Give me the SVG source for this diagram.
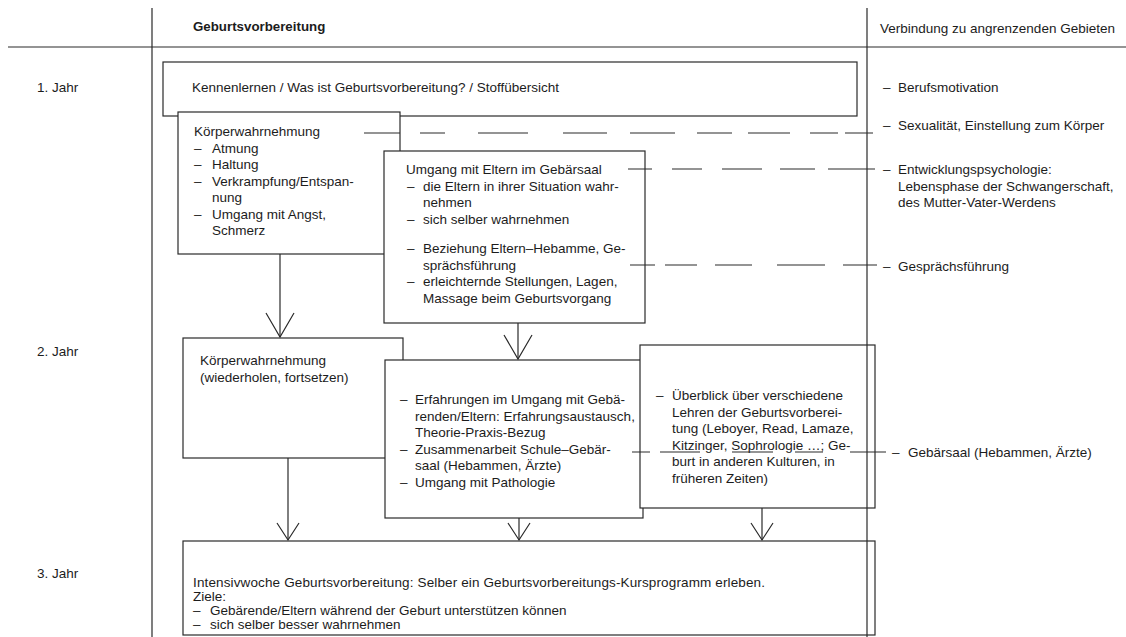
<svg xmlns="http://www.w3.org/2000/svg" width="1126" height="637" viewBox="0 0 1126 637">
<defs>
<style>
.t{font-family:"Liberation Sans",Arial,Helvetica,sans-serif;font-size:13.5px;fill:#1c1c1c}
.h{font-family:"Liberation Sans",Arial,Helvetica,sans-serif;font-size:13.3px;font-weight:bold;fill:#1c1c1c}
.box{fill:#fff;stroke:#2a2a2a;stroke-width:1.2}
.ln{fill:none;stroke:#2a2a2a;stroke-width:1.2}
.dash{fill:none;stroke:#2a2a2a;stroke-width:1.2}
</style>
<marker id="vL" markerUnits="userSpaceOnUse" viewBox="-1 -16 27 32" markerWidth="27" markerHeight="32" refX="24" refY="0" orient="auto">
<path d="M0,-14 L24,0 L0,14" fill="none" stroke="#2a2a2a" stroke-width="1.2"/>
</marker>
<marker id="vS" markerUnits="userSpaceOnUse" viewBox="-1 -13 20 26" markerWidth="20" markerHeight="26" refX="17" refY="0" orient="auto">
<path d="M0,-11 L17,0 L0,11" fill="none" stroke="#2a2a2a" stroke-width="1.2"/>
</marker>
</defs>
<rect width="1126" height="637" fill="#fff"/>

<g id="header">
<text class="h" x="193" y="31">Geburtsvorbereitung</text>
<text class="t" x="880" y="33">Verbindung zu angrenzenden Gebieten</text>
<text class="t" x="37" y="92">1.  Jahr</text>
<text class="t" x="37" y="356">2.  Jahr</text>
<text class="t" x="37" y="578">3.  Jahr</text>
</g>

<g id="n1">
<rect class="box" x="163" y="62" width="694" height="54"/>
<text class="t" x="192" y="92">Kennenlernen / Was ist Geburtsvorbereitung? / Stoffübersicht</text>
</g>

<g id="n2">
<rect class="box" x="178" y="112" width="222" height="142"/>
<text class="t" x="194" y="136">Körperwahrnehmung</text>
<text class="t" x="194" y="152.5">–</text><text class="t" x="212" y="152.5">Atmung</text>
<text class="t" x="194" y="169">–</text><text class="t" x="212" y="169">Haltung</text>
<text class="t" x="194" y="185.5">–</text><text class="t" x="212" y="185.5">Verkrampfung/Entspan-</text>
<text class="t" x="212" y="202">nung</text>
<text class="t" x="194" y="218.5">–</text><text class="t" x="212" y="218.5">Umgang mit Angst,</text>
<text class="t" x="212" y="235">Schmerz</text>
</g>

<g id="n3">
<rect class="box" x="384" y="151" width="261" height="172"/>
<text class="t" x="406" y="174">Umgang mit Eltern im Gebärsaal</text>
<text class="t" x="407" y="190.5">–</text><text class="t" x="423" y="190.5">die Eltern in ihrer Situation wahr-</text>
<text class="t" x="423" y="207">nehmen</text>
<text class="t" x="407" y="223.5">–</text><text class="t" x="423" y="223.5">sich selber wahrnehmen</text>
<text class="t" x="407" y="253">–</text><text class="t" x="423" y="253">Beziehung Eltern–Hebamme, Ge-</text>
<text class="t" x="423" y="269.5">sprächsführung</text>
<text class="t" x="407" y="286">–</text><text class="t" x="423" y="286">erleichternde Stellungen, Lagen,</text>
<text class="t" x="423" y="302.5">Massage beim Geburtsvorgang</text>
</g>

<g id="n4">
<rect class="box" x="183" y="338" width="220" height="120"/>
<text class="t" x="200" y="365">Körperwahrnehmung</text>
<text class="t" x="200" y="381.5">(wiederholen, fortsetzen)</text>
</g>

<g id="n5">
<rect class="box" x="385" y="360" width="258" height="158"/>
<text class="t" x="400" y="404">–</text><text class="t" x="415" y="404">Erfahrungen im Umgang mit Gebä-</text>
<text class="t" x="415" y="420.5">renden/Eltern: Erfahrungsaustausch,</text>
<text class="t" x="415" y="437">Theorie-Praxis-Bezug</text>
<text class="t" x="400" y="453.5">–</text><text class="t" x="415" y="453.5">Zusammenarbeit Schule–Gebär-</text>
<text class="t" x="415" y="470">saal (Hebammen, Ärzte)</text>
<text class="t" x="400" y="486.5">–</text><text class="t" x="415" y="486.5">Umgang mit Pathologie</text>
</g>

<g id="n6">
<rect class="box" x="640" y="345" width="235" height="163"/>
<text class="t" x="656" y="400">–</text><text class="t" x="672" y="400">Überblick über verschiedene</text>
<text class="t" x="672" y="416.5">Lehren der Geburtsvorberei-</text>
<text class="t" x="672" y="433">tung (Leboyer, Read, Lamaze,</text>
<text class="t" x="672" y="449.5">Kitzinger, Sophrologie …; Ge-</text>
<text class="t" x="672" y="466">burt in anderen Kulturen, in</text>
<text class="t" x="672" y="482.5">früheren Zeiten)</text>
</g>

<g id="n7">
<rect class="box" x="183" y="541" width="692" height="94"/>
<text class="t" x="193" y="587" textLength="572" lengthAdjust="spacing">Intensivwoche Geburtsvorbereitung: Selber ein Geburtsvorbereitungs-Kursprogramm erleben.</text>
<text class="t" x="193" y="601">Ziele:</text>
<text class="t" x="193" y="615">–</text><text class="t" x="210" y="615">Gebärende/Eltern während der Geburt unterstützen können</text>
<text class="t" x="193" y="629">–</text><text class="t" x="210" y="629">sich selber besser wahrnehmen</text>
</g>

<g id="frame">
<path class="ln" d="M152,8 V637 M867,8 V637 M8,47 H1126"/>
</g>

<g id="related">
<text class="t" x="883" y="92">–</text><text class="t" x="898" y="92">Berufsmotivation</text>
<text class="t" x="883" y="130">–</text><text class="t" x="898" y="130">Sexualität, Einstellung zum Körper</text>
<text class="t" x="883" y="174">–</text><text class="t" x="898" y="174">Entwicklungspsychologie:</text>
<text class="t" x="898" y="190.5">Lebensphase der Schwangerschaft,</text>
<text class="t" x="898" y="207">des Mutter-Vater-Werdens</text>
<text class="t" x="883" y="271">–</text><text class="t" x="898" y="271">Gesprächsführung</text>
<text class="t" x="892" y="457">–</text><text class="t" x="908" y="457">Gebärsaal (Hebammen, Ärzte)</text>
</g>

<g id="connectors">
<path class="ln" d="M280,254 V337" marker-end="url(#vL)"/>
<path class="ln" d="M518,323 V359" marker-end="url(#vL)"/>
<path class="ln" d="M288,458 V540" marker-end="url(#vS)"/>
<path class="ln" d="M519,518 V540" marker-end="url(#vS)"/>
<path class="ln" d="M762,508 V540" marker-end="url(#vS)"/>
<path class="dash" d="M364,133 H400 M420,133 H445 M478,133 H528 M563,133 H607 M630,133 H675 M697,133 H732 M748,133 H790 M810,133 H838 M845,133 H873"/>
<path class="dash" d="M628,169 H652 M672,169 H702 M722,169 H762 M780,169 H815 M828,169 H875"/>
<path class="dash" d="M630,265 H655 M665,265 H697 M715,265 H752 M777,265 H825 M843,265 H877"/>
<path class="dash" d="M632,452 H650 M660,452 H700 M732,452 H773 M795,452 H823 M850,452 H886"/>
</g>
</svg>
